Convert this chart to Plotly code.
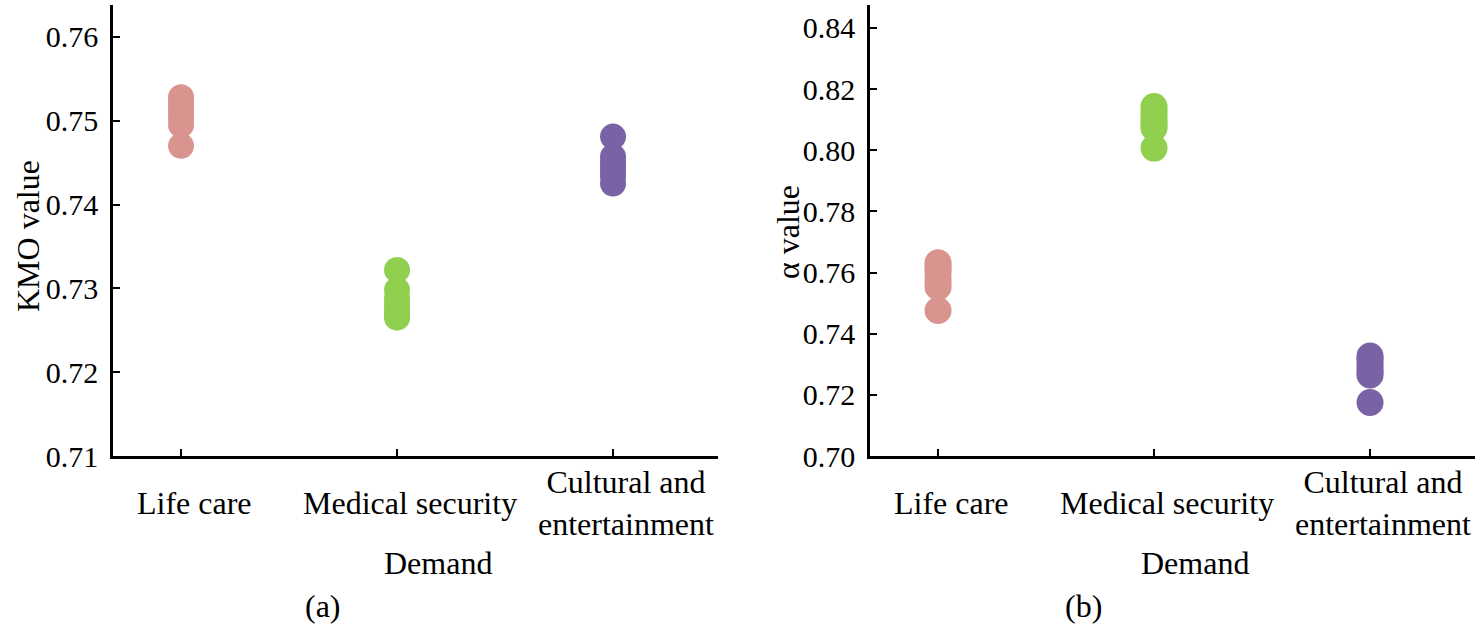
import plotly.graph_objects as go

categories = ["Life care", "Medical security", "Cultural and<br>entertainment"]

kmo_life = [0.7528, 0.7522, 0.7515, 0.7510, 0.7503, 0.7495, 0.7470]
kmo_medical = [0.7322, 0.7298, 0.7288, 0.7280, 0.7274, 0.7268, 0.7265]
kmo_cultural = [0.7481, 0.7457, 0.7450, 0.7445, 0.7440, 0.7434, 0.7425]

alpha_life = [0.7632, 0.7620, 0.7610, 0.7600, 0.7582, 0.7566, 0.7553, 0.7476]
alpha_medical = [0.8143, 0.8130, 0.8118, 0.8105, 0.8092, 0.8082, 0.8073, 0.8007]
alpha_cultural = [0.7327, 0.7318, 0.7308, 0.7295, 0.7282, 0.7272, 0.7265, 0.7175]

kmo_ticks = [0.71, 0.72, 0.73, 0.74, 0.75, 0.76]
alpha_ticks = [0.70, 0.72, 0.74, 0.76, 0.78, 0.80, 0.82, 0.84]

colors = ["#D9948F", "#91D04F", "#7B62A4"]
FONT = "Liberation Serif"
TICKFONT = "Times New Roman"

fig = go.Figure()

left_series = [kmo_life, kmo_medical, kmo_cultural]
right_series = [alpha_life, alpha_medical, alpha_cultural]

for i, vals in enumerate(left_series):
    fig.add_trace(go.Scatter(x=[i] * len(vals), y=vals, mode="markers",
                             marker=dict(size=26, color=colors[i], line=dict(width=0)),
                             xaxis="x", yaxis="y", showlegend=False))
for i, vals in enumerate(right_series):
    fig.add_trace(go.Scatter(x=[i] * len(vals), y=vals, mode="markers",
                             marker=dict(size=27, color=colors[i], line=dict(width=0)),
                             xaxis="x2", yaxis="y2", showlegend=False))

axis_common = dict(showgrid=False, zeroline=False, showline=True, linecolor="black",
                   linewidth=2.5, ticks="inside", ticklen=7, tickwidth=2, tickcolor="black",
                   automargin=False,
                   tickfont=dict(family=TICKFONT, size=30, color="black"))

fig.update_layout(
    width=1479, height=629,
    margin=dict(l=0, r=0, t=0, b=0),
    paper_bgcolor="white", plot_bgcolor="white",
    font=dict(family=FONT, size=30, color="black"),
    xaxis=dict(domain=[113 / 1479, 718 / 1479], range=[-0.315, 2.486],
               tickvals=[0, 1, 2], showticklabels=False, anchor="y", **axis_common),
    yaxis=dict(domain=[1 - 456 / 629, 1 - 5 / 629], range=[0.71, 0.7638],
               tickvals=kmo_ticks, ticktext=[f"{v:.2f}" for v in kmo_ticks],
               ticklabelstandoff=6, anchor="x", **axis_common),
    xaxis2=dict(domain=[870 / 1479, 1475 / 1479], range=[-0.315, 2.486],
                tickvals=[0, 1, 2], showticklabels=False, anchor="y2", **axis_common),
    yaxis2=dict(domain=[1 - 456 / 629, 1 - 5 / 629], range=[0.70, 0.8475],
                tickvals=alpha_ticks, ticktext=[f"{v:.2f}" for v in alpha_ticks],
                ticklabelstandoff=6, anchor="x2", **axis_common),
)

ann_font = dict(family=FONT, size=32, color="black")
for xr in ["x", "x2"]:
    for i, c in enumerate(categories):
        fig.add_annotation(x=i, xref=xr, y=1 - 503 / 629, yref="paper", text=c,
                           showarrow=False, font=ann_font, yanchor="middle",
                           xanchor="center", align="center", xshift=13)

for xc, txt, yc in [(438, "Demand", 563), (1195, "Demand", 563),
                    (323, "(a)", 606), (1083, "(b)", 606)]:
    fig.add_annotation(x=xc / 1479, xref="paper", y=1 - yc / 629, yref="paper",
                       text=txt, showarrow=False, font=ann_font,
                       xanchor="center", yanchor="middle")

fig.add_annotation(x=28 / 1479, xref="paper", y=1 - 236 / 629, yref="paper",
                   text="KMO value", showarrow=False, font=ann_font, textangle=-90,
                   xanchor="center", yanchor="middle")
fig.add_annotation(x=788 / 1479, xref="paper", y=1 - 232 / 629, yref="paper",
                   text="α value", showarrow=False, font=ann_font, textangle=-90,
                   xanchor="center", yanchor="middle")

fig.write_html("out.html", config={"displayModeBar": False},
               post_script="document.body.style.margin='0';document.body.style.overflow='hidden';")
